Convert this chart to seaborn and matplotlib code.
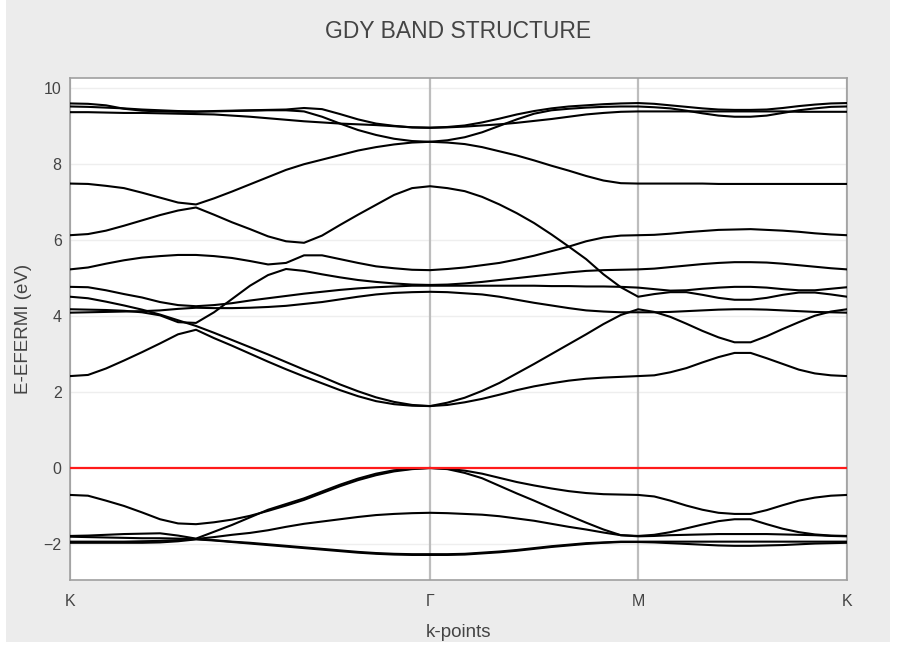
import numpy as np
import pandas as pd
import matplotlib
matplotlib.use("Agg")
import matplotlib.pyplot as plt
from matplotlib.patches import Rectangle
import seaborn as sns

# High-symmetry path K -> Γ -> M -> K (cumulative k distance)
kpoint_labels = ["K", "Γ", "M", "K"]
kpoint_dist = [0.0, 1.0, 1.578, 2.158]
segment_steps = [20, 12, 13]

# Energies relative to the Fermi level (eV) along the path
band_v1 = [-0.71, -0.73, -0.86, -1.00, -1.17, -1.35, -1.46, -1.48, -1.43, -1.36, -1.26, -1.13, -0.99, -0.84, -0.66, -0.48, -0.32, -0.19, -0.09, -0.03, 0.00,
           -0.02, -0.07, -0.15, -0.26, -0.37, -0.46, -0.54, -0.61, -0.66, -0.69, -0.70, -0.71,
           -0.75, -0.86, -0.99, -1.10, -1.18, -1.21, -1.21, -1.11, -0.98, -0.86, -0.78, -0.73, -0.71]
band_v2 = [-1.79, -1.78, -1.76, -1.74, -1.73, -1.72, -1.78, -1.86, -1.68, -1.50, -1.30, -1.10, -0.95, -0.80, -0.62, -0.44, -0.28, -0.15, -0.06, -0.02, 0.00,
           -0.03, -0.13, -0.27, -0.47, -0.67, -0.86, -1.06, -1.25, -1.44, -1.62, -1.77, -1.79,
           -1.76, -1.69, -1.59, -1.49, -1.40, -1.35, -1.35, -1.48, -1.60, -1.69, -1.75, -1.78, -1.79]
band_v3 = [-1.81, -1.82, -1.83, -1.84, -1.85, -1.85, -1.86, -1.87, -1.82, -1.76, -1.71, -1.64, -1.55, -1.47, -1.41, -1.35, -1.29, -1.24, -1.21, -1.19, -1.18,
           -1.19, -1.21, -1.23, -1.27, -1.33, -1.39, -1.47, -1.55, -1.62, -1.70, -1.77, -1.80,
           -1.79, -1.77, -1.76, -1.75, -1.74, -1.74, -1.74, -1.74, -1.75, -1.76, -1.77, -1.79, -1.80]
band_v4 = [-1.94, -1.94, -1.94, -1.94, -1.93, -1.92, -1.90, -1.87, -1.90, -1.94, -1.97, -2.01, -2.05, -2.09, -2.13, -2.17, -2.21, -2.24, -2.26, -2.27, -2.27,
           -2.27, -2.26, -2.23, -2.20, -2.16, -2.11, -2.06, -2.02, -1.98, -1.96, -1.94, -1.94,
           -1.94, -1.94, -1.94, -1.94, -1.94, -1.94, -1.94, -1.94, -1.94, -1.94, -1.94, -1.94, -1.94]
band_v5 = [-1.97, -1.97, -1.97, -1.97, -1.97, -1.96, -1.93, -1.88, -1.91, -1.95, -1.99, -2.03, -2.07, -2.11, -2.15, -2.19, -2.23, -2.26, -2.28, -2.29, -2.29,
           -2.29, -2.28, -2.25, -2.22, -2.18, -2.13, -2.08, -2.04, -2.00, -1.97, -1.95, -1.95,
           -1.96, -1.98, -2.00, -2.02, -2.04, -2.05, -2.05, -2.04, -2.03, -2.01, -1.99, -1.98, -1.97]

band_c1 = [2.42, 2.45, 2.62, 2.83, 3.05, 3.28, 3.52, 3.64, 3.42, 3.22, 3.01, 2.80, 2.60, 2.41, 2.23, 2.05, 1.89, 1.76, 1.68, 1.64, 1.63,
           1.66, 1.73, 1.82, 1.93, 2.05, 2.15, 2.23, 2.30, 2.35, 2.38, 2.40, 2.42,
           2.44, 2.52, 2.63, 2.78, 2.92, 3.03, 3.03, 2.89, 2.74, 2.59, 2.49, 2.44, 2.42]
band_c2 = [4.51, 4.47, 4.38, 4.28, 4.17, 4.04, 3.89, 3.74, 3.56, 3.37, 3.18, 2.99, 2.79, 2.59, 2.40, 2.20, 2.02, 1.86, 1.74, 1.66, 1.63,
           1.72, 1.85, 2.03, 2.24, 2.49, 2.74, 3.00, 3.26, 3.52, 3.79, 4.03, 4.18,
           4.11, 3.98, 3.80, 3.61, 3.44, 3.31, 3.31, 3.47, 3.66, 3.84, 4.01, 4.12, 4.18]
band_c3 = [4.18, 4.17, 4.16, 4.14, 4.10, 4.02, 3.84, 3.82, 4.10, 4.45, 4.80, 5.08, 5.24, 5.19, 5.10, 5.02, 4.95, 4.90, 4.86, 4.83, 4.82,
           4.83, 4.86, 4.90, 4.95, 5.00, 5.05, 5.10, 5.15, 5.19, 5.21, 5.22, 5.23,
           5.25, 5.29, 5.33, 5.37, 5.40, 5.42, 5.42, 5.41, 5.38, 5.34, 5.30, 5.26, 5.23]
band_c4 = [4.09, 4.10, 4.11, 4.12, 4.13, 4.15, 4.19, 4.22, 4.21, 4.21, 4.22, 4.24, 4.27, 4.32, 4.37, 4.44, 4.51, 4.57, 4.61, 4.63, 4.64,
           4.63, 4.60, 4.57, 4.51, 4.43, 4.35, 4.28, 4.21, 4.15, 4.12, 4.10, 4.10,
           4.10, 4.11, 4.13, 4.15, 4.17, 4.18, 4.18, 4.17, 4.15, 4.13, 4.11, 4.10, 4.09]
band_c5 = [4.77, 4.76, 4.68, 4.58, 4.49, 4.37, 4.29, 4.26, 4.29, 4.34, 4.41, 4.47, 4.53, 4.59, 4.64, 4.69, 4.73, 4.76, 4.78, 4.80, 4.80,
           4.80, 4.80, 4.80, 4.80, 4.80, 4.80, 4.79, 4.79, 4.78, 4.78, 4.77, 4.75,
           4.71, 4.67, 4.68, 4.72, 4.75, 4.77, 4.77, 4.75, 4.71, 4.68, 4.68, 4.72, 4.76]
band_c6 = [5.23, 5.28, 5.38, 5.47, 5.54, 5.58, 5.61, 5.61, 5.58, 5.53, 5.45, 5.36, 5.40, 5.60, 5.60, 5.50, 5.40, 5.31, 5.26, 5.22, 5.21,
           5.24, 5.28, 5.34, 5.40, 5.49, 5.59, 5.71, 5.83, 5.97, 6.07, 6.12, 6.13,
           6.14, 6.17, 6.21, 6.24, 6.27, 6.28, 6.29, 6.27, 6.25, 6.22, 6.18, 6.15, 6.13]
band_c7 = [6.13, 6.16, 6.25, 6.38, 6.52, 6.66, 6.78, 6.86, 6.67, 6.47, 6.29, 6.10, 5.97, 5.93, 6.12, 6.40, 6.67, 6.93, 7.19, 7.37, 7.42,
           7.37, 7.29, 7.14, 6.94, 6.71, 6.45, 6.15, 5.83, 5.50, 5.10, 4.76, 4.51,
           4.58, 4.63, 4.63, 4.56, 4.48, 4.43, 4.43, 4.48, 4.56, 4.62, 4.62, 4.57, 4.51]
band_c8 = [7.49, 7.48, 7.43, 7.37, 7.25, 7.12, 6.99, 6.94, 7.10, 7.28, 7.47, 7.66, 7.85, 8.00, 8.12, 8.24, 8.36, 8.45, 8.52, 8.57, 8.59,
           8.57, 8.53, 8.45, 8.34, 8.23, 8.10, 7.96, 7.83, 7.69, 7.57, 7.50, 7.49,
           7.49, 7.49, 7.49, 7.49, 7.48, 7.48, 7.48, 7.48, 7.48, 7.48, 7.48, 7.48, 7.48]
band_c9 = [9.37, 9.37, 9.36, 9.35, 9.35, 9.34, 9.33, 9.32, 9.31, 9.28, 9.25, 9.21, 9.17, 9.13, 9.10, 9.07, 9.05, 9.03, 9.00, 8.97, 8.96,
           8.97, 8.99, 9.02, 9.05, 9.09, 9.14, 9.19, 9.25, 9.31, 9.35, 9.38, 9.39,
           9.39, 9.39, 9.39, 9.39, 9.39, 9.39, 9.39, 9.39, 9.39, 9.38, 9.38, 9.38, 9.38]
band_c10 = [9.52, 9.51, 9.49, 9.47, 9.44, 9.42, 9.40, 9.39, 9.39, 9.40, 9.41, 9.42, 9.42, 9.39, 9.25, 9.07, 8.90, 8.77, 8.67, 8.61, 8.59,
            8.63, 8.71, 8.84, 9.01, 9.18, 9.33, 9.42, 9.46, 9.49, 9.51, 9.52, 9.52,
            9.50, 9.47, 9.41, 9.34, 9.28, 9.25, 9.25, 9.28, 9.35, 9.42, 9.47, 9.51, 9.52]
band_c11 = [9.60, 9.59, 9.55, 9.46, 9.41, 9.39, 9.38, 9.38, 9.40, 9.41, 9.42, 9.43, 9.44, 9.48, 9.45, 9.32, 9.18, 9.07, 9.01, 8.97, 8.96,
            8.98, 9.02, 9.10, 9.20, 9.31, 9.40, 9.47, 9.52, 9.55, 9.58, 9.60, 9.61,
            9.59, 9.55, 9.51, 9.47, 9.44, 9.43, 9.43, 9.44, 9.48, 9.53, 9.57, 9.60, 9.61]

bands = {
    "v1": band_v1, "v2": band_v2, "v3": band_v3, "v4": band_v4, "v5": band_v5,
    "c1": band_c1, "c2": band_c2, "c3": band_c3, "c4": band_c4, "c5": band_c5,
    "c6": band_c6, "c7": band_c7, "c8": band_c8, "c9": band_c9, "c10": band_c10,
    "c11": band_c11,
}

# uniform k sampling on each segment of the path
k_parts = [np.linspace(kpoint_dist[0], kpoint_dist[1], segment_steps[0] + 1)]
for i in (1, 2):
    k_parts.append(np.linspace(kpoint_dist[i], kpoint_dist[i + 1], segment_steps[i] + 1)[1:])
k_path = np.concatenate(k_parts)

df = pd.concat(
    [pd.DataFrame({"k": k_path, "energy": np.asarray(e, dtype=float), "band": name})
     for name, e in bands.items()],
    ignore_index=True,
)

sns.set_theme(style="white")
plt.rcParams["font.family"] = ["Liberation Sans", "DejaVu Sans"]

text_color = "#444444"
fig = plt.figure(figsize=(9.03, 6.45), dpi=100, facecolor="white")
fig.patches.append(Rectangle((6 / 903, 0.004), 884 / 903, 0.996,
                             transform=fig.transFigure, facecolor="#ececec",
                             edgecolor="none", zorder=-10))
ax = fig.add_axes([70 / 903, 1 - 580 / 645, 777 / 903, 502 / 645])
ax.set_facecolor("white")

for y in [-2, 2, 4, 6, 8, 10]:
    ax.axhline(y, color="#eeeeee", lw=1.0, zorder=0)
for x in kpoint_dist:
    ax.axvline(x, color="#bdbdbd", lw=1.6, zorder=1)

sns.lineplot(data=df, x="k", y="energy", units="band", estimator=None, sort=False,
             color="black", lw=1.5, ax=ax, legend=False, zorder=3)
ax.axhline(0, color="#ff1a1a", lw=1.6, zorder=4)

ax.set_xlim(kpoint_dist[0], kpoint_dist[-1])
ax.set_ylim(-2.95, 10.27)
ax.set_xticks(kpoint_dist)
ax.set_xticklabels(kpoint_labels)
ax.set_yticks([-2, 0, 2, 4, 6, 8, 10])
ax.tick_params(axis="both", length=0, labelsize=11.5, colors=text_color)
ax.tick_params(axis="x", pad=10)
ax.tick_params(axis="y", pad=6)

for s in ax.spines.values():
    s.set_color("#a0a0a0")
    s.set_linewidth(1.2)

ax.set_xlabel("k-points", fontsize=13.5, color=text_color, labelpad=11)
ax.set_ylabel("E-EFERMI (eV)", fontsize=13.5, color=text_color, labelpad=8)
fig.text(458.5 / 903, 1 - 32 / 645, "GDY BAND STRUCTURE", ha="center", va="center",
         fontsize=16.5, color=text_color)

fig.savefig("out.png", dpi=100, facecolor=fig.get_facecolor())
